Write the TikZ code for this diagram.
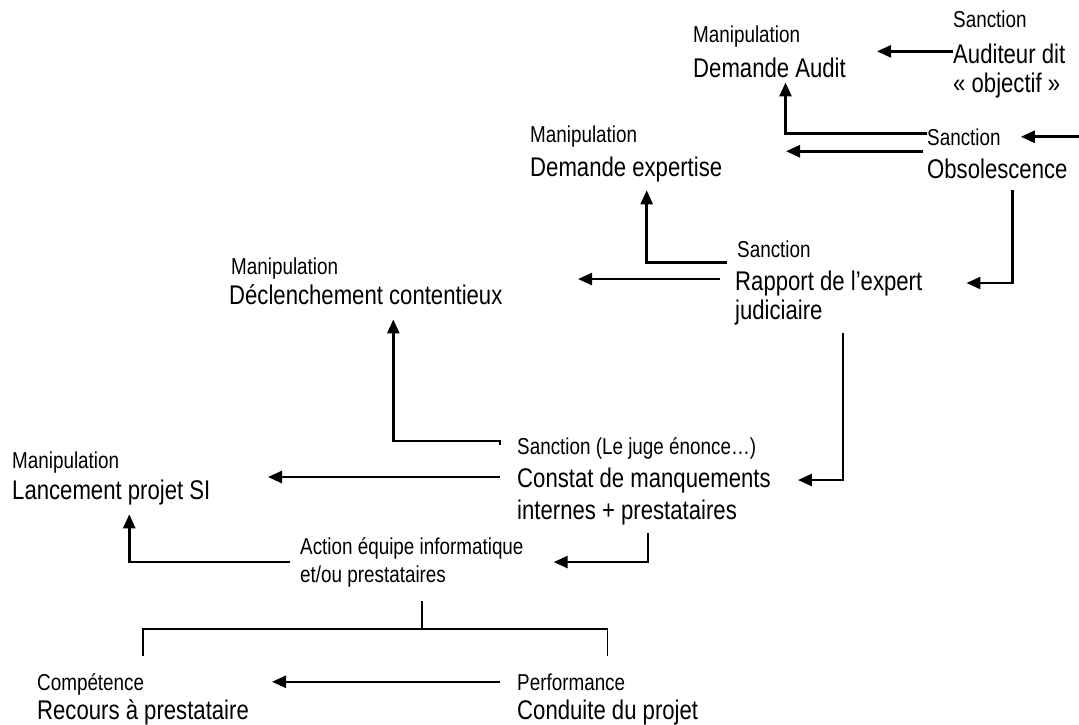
\documentclass[tikz,border=0pt]{standalone}
\usepackage{fontspec}
\setmainfont[FakeStretch=0.82]{Liberation Sans}
\usetikzlibrary{arrows.meta}

\begin{document}
\begin{tikzpicture}[x=1pt, y=-1pt,
    lab/.style={font=\fontsize{23}{28}\selectfont, inner sep=0pt, anchor=base west},
    txt/.style={font=\fontsize{27}{29}\selectfont, inner sep=0pt, anchor=base west},
    arr/.style={line width=2.6pt, -{Triangle[length=14pt,width=12pt]}},
    brk/.style={line width=1.6pt}]
  \useasboundingbox (0,0) rectangle (1079,724);
  \coordinate (edgeR) at (1079,0);

  % top right
  \node[lab] (sanA) at (953,27) {Sanction};
  \node[txt] (audA) at (953,63) {Auditeur dit};
  \node[txt] (objA) at (953,92) {« objectif »};
  \node[lab] (manB) at (693,42) {Manipulation};
  \node[txt] (demB) at (693,77) {Demande Audit};
  \node[lab] (sanC) at (927,145) {Sanction};
  \node[txt] (obsC) at (927,178) {Obsolescence};
  \node[lab] (manD) at (530,142) {Manipulation};
  \node[txt] (demD) at (530,176) {Demande expertise};

  % middle
  \node[lab] (sanE) at (737,257) {Sanction};
  \node[txt] (rapE) at (735,290) {Rapport de l’expert};
  \node[txt] (judE) at (735,319) {judiciaire};
  \node[lab] (manF) at (231,274) {Manipulation};
  \node[txt] (decF) at (229,304) {Déclenchement contentieux};
  \node[lab] (sanG) at (517,454) {Sanction (Le juge énonce…)};
  \node[txt] (conG) at (517,487) {Constat de manquements};
  \node[txt] (intG) at (517,519) {internes + prestataires};
  \node[lab] (manH) at (12,468) {Manipulation};
  \node[txt] (lanH) at (12,499) {Lancement projet SI};

  % bottom
  \node[lab, align=left, anchor=north west] (actI) at (300,537) {Action équipe informatique\\et/ou prestataires};
  \node[lab] (comJ) at (37,690) {Compétence};
  \node[txt] (recJ) at (37,719) {Recours à prestataire};
  \node[lab] (perK) at (517,690) {Performance};
  \node[txt] (conK) at (517,719) {Conduite du projet};

  % connectors
  \draw[arr] ([yshift=2pt]audA.west) -- ++(-76,0);
  \draw[arr] ([yshift=3pt]sanC.west) -| ([xshift=16pt,yshift=-5pt]demB.south);
  \draw[arr] (sanC.east -| edgeR) -- ([xshift=20pt]sanC.east);
  \draw[arr] ([xshift=-4pt,yshift=7pt]obsC.north west) -- ++(-137,0);
  \draw[arr] ([xshift=-55pt,yshift=-12pt]obsC.south east) |- ([xshift=44pt]rapE.east);
  \draw[arr] ([xshift=-10pt,yshift=-5pt]sanE.south west) -| ([xshift=20.5pt,yshift=-8.5pt]demD.south);
  \draw[arr] ([xshift=-15pt,yshift=4pt]rapE.west) -- ++(-142,0);
  \draw[arr] ([xshift=108pt,yshift=-8.5pt]judE.south west) |- ([xshift=27pt]conG.east);
  \draw[arr] ([xshift=-17pt,yshift=9pt]sanG.base west) -- ++(0,-4) -| ([xshift=27.5pt,yshift=-15pt]decF.south);
  \draw[arr] ([xshift=-17pt,yshift=3pt]conG.west) -- ++(-232,0);
  \draw[arr] ([xshift=131pt,yshift=-8.5pt]intG.south west) |- ([xshift=30pt]actI.east);
  \draw[arr] ([xshift=-10pt]actI.west) -| ([xshift=18pt,yshift=-9.5pt]lanH.south);
  \draw[arr] ([xshift=-17pt]perK.west) -- ++(-228,0);

  % fork
  \coordinate (fork) at ([xshift=10pt,yshift=-42pt]actI.south);
  \draw[brk] ([xshift=10pt,yshift=-14pt]actI.south) -- (fork);
  \draw[brk] (fork -| recJ.north) ++(0,27) -- (fork -| recJ.north) -- (fork -| conK.north) -- ++(0,27);
\end{tikzpicture}
\end{document}
